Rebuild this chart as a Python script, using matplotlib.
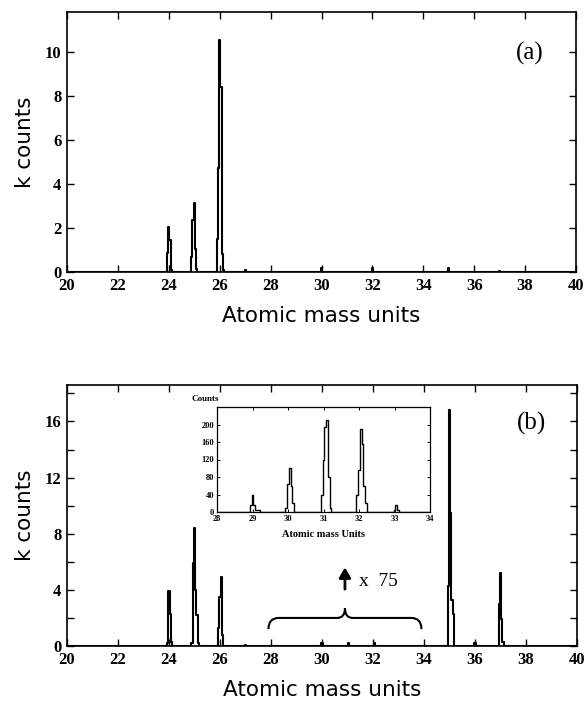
import matplotlib
matplotlib.use('Agg')
import matplotlib.pyplot as plt
from matplotlib.path import Path
from matplotlib.patches import PathPatch

# ---------------- data ----------------
# Panel (a): bin centres (amu) and k counts
mass_a = [20.0, 23.9, 23.95, 24.0, 24.05, 24.1, 24.15,
          24.85, 24.9, 24.95, 25.0, 25.05, 25.1, 25.15,
          25.85, 25.9, 25.95, 26.0, 26.05, 26.1, 26.15, 26.2,
          26.95, 27.0, 27.05, 29.95, 30.0, 30.05, 31.95, 32.0, 32.05,
          34.95, 35.0, 35.05, 36.95, 37.0, 37.05, 40.0]
counts_a = [0, 0, 0.85, 2.05, 1.45, 0.1, 0,
            0, 0.7, 2.35, 3.15, 1.05, 0.15, 0,
            0, 1.5, 4.7, 10.55, 8.4, 0.8, 0.1, 0,
            0, 0.1, 0, 0, 0.2, 0, 0, 0.2, 0,
            0, 0.2, 0, 0, 0.05, 0, 0]

# Panel (b): bin centres (amu) and k counts
mass_b = [20.0, 23.9, 23.95, 24.0, 24.05, 24.1, 24.15,
          24.85, 24.9, 24.95, 25.0, 25.05, 25.1, 25.15, 25.2,
          25.9, 25.95, 26.0, 26.05, 26.1, 26.15,
          26.95, 27.0, 27.05, 29.95, 30.0, 30.05, 31.0, 31.05, 31.1,
          32.0, 32.05, 32.1, 34.85, 34.9, 34.95, 35.0, 35.05, 35.1, 35.15, 35.2,
          35.95, 36.0, 36.05, 36.9, 36.95, 37.0, 37.05, 37.1, 37.15, 40.0]
counts_b = [0, 0, 0.2, 3.9, 2.3, 0.3, 0,
            0, 0.2, 5.9, 8.4, 4.0, 2.2, 0.2, 0,
            0, 1.3, 3.5, 4.9, 0.8, 0,
            0, 0.1, 0, 0, 0.2, 0, 0, 0.2, 0,
            0, 0.2, 0, 0, 0, 4.3, 16.8, 9.5, 3.3, 2.3, 0,
            0, 0.2, 0, 0, 3.0, 5.2, 1.9, 0.3, 0, 0]

# Inset: bin centres (amu) and counts
mass_in = [28.0, 28.9, 28.95, 29.0, 29.05, 29.1, 29.15, 29.2, 29.25,
           29.9, 29.95, 30.0, 30.05, 30.1, 30.15, 30.2,
           30.9, 30.95, 31.0, 31.05, 31.1, 31.15, 31.2, 31.25,
           31.9, 31.95, 32.0, 32.05, 32.1, 32.15, 32.2, 32.25,
           32.95, 33.0, 33.05, 33.1, 33.15, 34.0]
counts_in = [0, 0, 15, 40, 15, 5, 5, 5, 0,
             0, 10, 65, 100, 60, 20, 0,
             0, 40, 120, 195, 210, 80, 10, 0,
             0, 40, 95, 190, 155, 60, 20, 0,
             0, 5, 15, 5, 0, 0]

xticks_main = [20, 22, 24, 26, 28, 30, 32, 34, 36, 38, 40]
yticks_a = [0, 2, 4, 6, 8, 10]
yticks_b = [0, 2, 4, 6, 8, 10, 12, 14, 16, 18]
yticklabels_b = ['0', '', '4', '', '8', '', '12', '', '16', '']
xticks_in = [28, 29, 30, 31, 32, 33, 34]
yticks_in = [0, 40, 80, 120, 160, 200]

# ---------------- figure ----------------
W, H = 587, 703
fig = plt.figure(figsize=(W / 100, H / 100), dpi=100)
fig.patch.set_facecolor('white')

def fr(x0, y0, x1, y1):
    return [x0 / W, 1 - y1 / H, (x1 - x0) / W, (y1 - y0) / H]

tick_font = dict(family='Liberation Serif', weight='bold', size=12)
label_font = dict(family='DejaVu Sans', size=15.5)

def style_main(ax):
    for s in ax.spines.values():
        s.set_linewidth(1.2)
    ax.tick_params(direction='in', top=True, right=True, length=5, width=1,
                   pad=4)
    for lab in ax.get_xticklabels() + ax.get_yticklabels():
        lab.set_fontfamily(tick_font['family'])
        lab.set_fontweight(tick_font['weight'])
        lab.set_fontsize(tick_font['size'])
    ax.set_xlabel('Atomic mass units', **label_font)
    ax.set_ylabel('k counts', **label_font)
    ax.xaxis.set_label_coords(0.5, -0.13)
    ax.yaxis.set_label_coords(-0.062, 0.5)

# Panel (a)
axa = fig.add_axes(fr(67, 12, 576, 272))
axa.plot(mass_a, counts_a, color='black', lw=1.5, drawstyle='steps-mid')
axa.set_xlim(20, 40)
axa.set_ylim(0, 11.8)
axa.set_xticks(xticks_main)
axa.set_yticks(yticks_a)
style_main(axa)
axa.text(0.91, 0.84, '(a)', transform=axa.transAxes, ha='center', va='center',
         family='Liberation Serif', size=18)

# Panel (b)
axb = fig.add_axes(fr(67, 385, 577, 646))
axb.plot(mass_b, counts_b, color='black', lw=1.5, drawstyle='steps-mid')
axb.set_xlim(20, 40)
axb.set_ylim(0, 18.6)
axb.set_xticks(xticks_main)
axb.set_yticks(yticks_b)
axb.set_yticklabels(yticklabels_b)
style_main(axb)
axb.text(0.91, 0.854, '(b)', transform=axb.transAxes, ha='center', va='center',
         family='Liberation Serif', size=18)

# brace over 28-34
verts = [(27.9, 1.2), (27.9, 2.0), (28.3, 2.0),
         (30.6, 2.0),
         (30.9, 2.0), (30.9, 2.7),
         (30.9, 2.0), (31.2, 2.0),
         (33.5, 2.0),
         (33.9, 2.0), (33.9, 1.2)]
codes = [Path.MOVETO, Path.CURVE3, Path.CURVE3,
         Path.LINETO,
         Path.CURVE3, Path.CURVE3,
         Path.CURVE3, Path.CURVE3,
         Path.LINETO,
         Path.CURVE3, Path.CURVE3]
axb.add_patch(PathPatch(Path(verts, codes), facecolor='none',
                        edgecolor='black', lw=1.5))
axb.annotate('', xy=(30.9, 5.6), xytext=(30.9, 4.05),
             arrowprops=dict(arrowstyle='-|>,head_width=0.35,head_length=0.6',
                             lw=2, color='black', shrinkA=0, shrinkB=0))
axb.text(31.45, 4.6, 'x  75', ha='left', va='center',
         family='Liberation Serif', size=14)

# Inset
axi = fig.add_axes(fr(217, 407, 430, 512))
axi.plot(mass_in, counts_in, color='black', lw=1.0, drawstyle='steps-mid')
axi.set_xlim(28, 34)
axi.set_ylim(0, 240)
axi.set_xticks(xticks_in)
axi.set_yticks(yticks_in)
for s in axi.spines.values():
    s.set_linewidth(0.9)
axi.tick_params(direction='in', top=True, right=True, length=2.5, width=0.7,
                pad=2)
for lab in axi.get_xticklabels() + axi.get_yticklabels():
    lab.set_fontfamily('Liberation Serif')
    lab.set_fontweight('bold')
    lab.set_fontsize(6)
axi.set_xlabel('Atomic mass Units', family='Liberation Serif',
               weight='bold', size=7.5, labelpad=5)
axi.text(-0.12, 1.08, 'Counts', transform=axi.transAxes, ha='left',
         va='center', family='Liberation Serif', weight='bold', size=6.5)

fig.savefig('out.png', dpi=100, facecolor='white')
